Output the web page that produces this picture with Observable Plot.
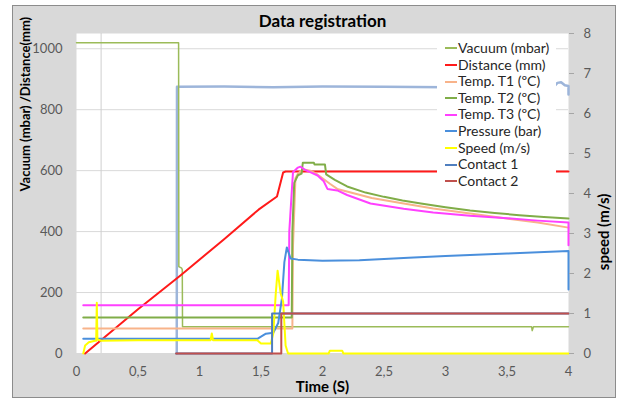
<!DOCTYPE html>
<html><head><meta charset="utf-8">
<script src="https://cdn.jsdelivr.net/npm/d3@7"></script>
<script src="https://cdn.jsdelivr.net/npm/@observablehq/plot@0.6"></script>
<style>
body{margin:0;background:#fff;}
#wrap{position:relative;width:619px;height:398px;overflow:hidden;font-family:Lato,"Open Sans",sans-serif;}
#bg{position:absolute;left:12px;top:5px;width:602px;height:391px;background:#d9d9d9;border:1px solid #8c8c8c;}
#chart{position:absolute;left:0;top:0;}
#legend{position:absolute;left:437px;top:37px;width:119px;height:153px;background:#fff;}
.item{position:absolute;left:8px;height:16px;line-height:16px;font-size:14px;color:#262626;white-space:nowrap;}
.sw{display:inline-block;width:12px;height:2px;vertical-align:middle;margin-right:1px;position:relative;top:-1px;}
</style></head>
<body>
<div id="wrap"><div id="bg"></div><div id="chart"></div><div id="legend"></div></div>
<script>
// ---- data ----
const xTicks = [0, 0.5, 1, 1.5, 2, 2.5, 3, 3.5, 4];
const leftTicks = [0, 200, 400, 600, 800, 1000];
const rightTicks = [0, 1, 2, 3, 4, 5, 6, 7, 8];

const extraT = [0.815, 0.817, 1.2, 1.6, 2.0, 2.5, 3.0, 3.5, 3.88, 3.91, 3.94, 3.97, 4.0, 4.0];
const extraV = [0, 875, 876, 874, 876, 875, 874, 876, 875, 888, 890, 880, 878, 850];

const vacuumT = [0, 0.83, 0.832, 0.855, 0.86, 0.862, 1.5, 2.0, 3.0, 3.7, 3.705, 3.715, 4.0];
const vacuumV = [1020, 1020, 285, 280, 275, 88, 88, 88, 88, 88, 75, 88, 88];

const distanceT = [0.07, 0.5, 0.845, 1.2, 1.48, 1.63, 1.68, 1.7, 4.0];
const distanceV = [0, 145, 256, 375, 472, 515, 594, 597, 597];

const t1T = [0.055, 1.755, 1.76, 1.78, 1.8, 1.84, 1.9, 1.95, 2.0, 2.06, 2.12, 2.23, 2.4, 2.66, 2.9, 3.2, 3.5, 3.75, 4.0];
const t1V = [82, 82, 350, 575, 590, 605, 600, 590, 575, 557, 540, 528, 510, 492, 476, 459, 443, 430, 413];

const t2T = [0.055, 1.75, 1.755, 1.77, 1.8, 1.83, 1.84, 1.93, 1.935, 2.02, 2.03, 2.1, 2.2, 2.35, 2.5, 2.65, 2.8, 3.0, 3.2, 3.4, 3.6, 3.8, 4.0];
const t2V = [118, 118, 400, 560, 585, 590, 626, 626, 620, 620, 588, 570, 548, 528, 514, 502, 492, 480, 469, 461, 454, 448, 443];

const t3T = [0.055, 1.725, 1.73, 1.76, 1.8, 1.82, 1.86, 1.9, 1.96, 2.01, 2.04, 2.12, 2.2, 2.39, 2.66, 2.9, 3.2, 3.5, 3.75, 4.0, 4.0];
const t3V = [158, 158, 400, 595, 610, 613, 602, 595, 584, 565, 540, 535, 520, 492, 475, 463, 452, 444, 436, 430, 355];

const pressureT = [0.055, 0.5, 1.0, 1.47, 1.54, 1.6, 1.64, 1.67, 1.69, 1.71, 1.74, 1.8, 2.0, 2.3, 2.7, 3.0, 3.5, 4.0, 4.0];
const pressureV = [48, 48, 48, 48, 65, 68, 100, 180, 300, 348, 312, 308, 304, 306, 314, 320, 328, 336, 210];

// right axis (m/s)
const speedT = [0.055, 0.07, 0.1, 0.15, 0.16, 0.165, 0.17, 0.2, 0.5, 0.9, 1.09, 1.1, 1.11, 1.47, 1.5, 1.58, 1.6, 1.62, 1.635, 1.66, 1.68, 1.7, 1.72, 2.05, 2.06, 2.16, 2.17, 4.0];
const speedV = [0, 0.2, 0.28, 0.32, 0.32, 1.27, 0.35, 0.32, 0.33, 0.33, 0.33, 0.5, 0.33, 0.33, 0.25, 0.25, 0.5, 1.5, 2.07, 1.5, 1.3, 0.2, 0.0, 0.0, 0.07, 0.07, 0.0, 0.0];

const contact1T = [0.81, 1.59, 1.59, 4.0];
const contact1V = [0, 0, 1, 1];
const contact2T = [0.81, 1.665, 1.665, 4.0];
const contact2V = [0, 0, 1, 1];

const K = 1050 / 8; // right-axis unit in left-axis units

const series = [
  {name: null, t: extraT, v: extraV, color: "#9db5da", w: 2.5, right: false},
  {name: "Vacuum (mbar)", t: vacuumT, v: vacuumV, color: "#9bbb59", w: 1.5, right: false},
  {name: "Distance (mm)", t: distanceT, v: distanceV, color: "#ff1a1a", w: 2, right: false},
  {name: "Temp. T1 (ºC)", t: t1T, v: t1V, color: "#f8b38a", w: 2, right: false},
  {name: "Temp. T2 (ºC)", t: t2T, v: t2V, color: "#80ad48", w: 2, right: false},
  {name: "Temp. T3 (ºC)", t: t3T, v: t3V, color: "#ff40ff", w: 2, right: false},
  {name: "Pressure (bar)", t: pressureT, v: pressureV, color: "#4a8fdc", w: 2, right: false},
  {name: "Speed (m/s)", t: speedT, v: speedV, color: "#ffff00", w: 2, right: true},
  {name: "Contact 1", t: contact1T, v: contact1V, color: "#4f7fbf", w: 2, right: true},
  {name: "Contact 2", t: contact2T, v: contact2V, color: "#c0504d", w: 2, right: true}
];

const lineMarks = series.map(s => Plot.line(s.t.map((t, i) => ({t, v: s.v[i]})), {
  x: "t", y: d => s.right ? d.v * K : d.v,
  stroke: s.color, strokeWidth: s.w, strokeLinejoin: "round"
}));

const chart = Plot.plot({
  width: 619, height: 398,
  marginLeft: 76, marginRight: 51, marginTop: 33, marginBottom: 45,
  x: {domain: [0, 4]},
  y: {domain: [0, 1050]},
  style: {background: "transparent", fontFamily: "Lato, 'Open Sans', sans-serif", fontSize: "13px", color: "#595959", overflow: "visible"},
  marks: [
    Plot.frame({fill: "white", stroke: null}),
    Plot.gridY({ticks: leftTicks, stroke: "#d9d9d9", strokeOpacity: 1}),
    Plot.ruleX([0.2], {stroke: "#cfcfcf"}),
    ...lineMarks,
    Plot.axisY({ticks: leftTicks, tickFormat: d => String(d), tickSize: 0, tickPadding: 14, label: null, fill: "#595959"}),
    Plot.axisY({anchor: "right", ticks: rightTicks.map(v => v * K), tickFormat: d => String(Math.round(d / K)),
      tickSize: 5, tickPadding: 10, stroke: "#a6a6a6", label: null, fill: "#595959"}),
    Plot.axisX({ticks: xTicks, tickFormat: d => String(d).replace(".", ","), tickSize: 0, tickPadding: 13, label: null, fill: "#595959"}),
    Plot.text(["Data registration"], {frameAnchor: "top", lineAnchor: "middle", dy: -12, fontWeight: "bold", fontSize: 17, fill: "#000"}),
    Plot.text(["Time (S)"], {frameAnchor: "bottom", lineAnchor: "middle", dy: 34, fontWeight: "bold", fontSize: 15, fill: "#000"}),
    Plot.text(["Vacuum (mbar) /Distance(mm)"], {frameAnchor: "left", lineAnchor: "middle", dx: -51, dy: -2, rotate: -90, fontWeight: "bold", fontSize: 13, fill: "#000"}),
    Plot.text(["speed (m/s)"], {frameAnchor: "right", lineAnchor: "middle", dx: 36, rotate: -90, fontWeight: "bold", fontSize: 15, fill: "#000"})
  ]
});
document.getElementById("chart").appendChild(chart);

const legend = document.getElementById("legend");
series.filter(s => s.name).forEach((s, i) => {
  const it = document.createElement("div");
  it.className = "item";
  it.style.top = (3 + i * 16.6) + "px";
  const sw = document.createElement("span");
  sw.className = "sw";
  sw.style.background = s.color;
  it.appendChild(sw);
  it.appendChild(document.createTextNode(s.name));
  legend.appendChild(it);
});
</script>
</body></html>
